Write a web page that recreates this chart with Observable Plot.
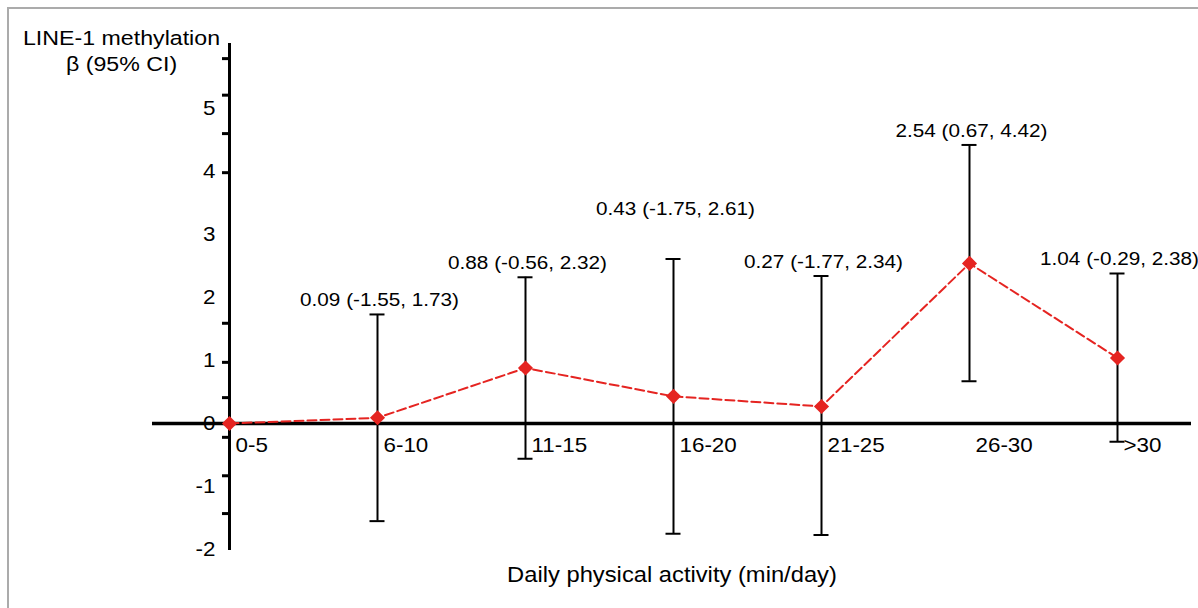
<!DOCTYPE html>
<html><head><meta charset="utf-8">
<script src="https://cdn.jsdelivr.net/npm/d3@7"></script>
<script src="https://cdn.jsdelivr.net/npm/@observablehq/plot@0.6"></script>
<style>
html,body{margin:0;padding:0;background:#fff;overflow:hidden;}
#wrap{position:relative;width:1198px;height:608px;}
#border{position:absolute;left:7px;top:7px;width:1200px;height:610px;border-left:2px solid #ababab;border-top:2px solid #ababab;pointer-events:none;}
</style></head><body>
<div id="wrap"><div id="border"></div></div>
<script>
const categories = ["0-5", "6-10", "11-15", "16-20", "21-25", "26-30", ">30"];
const estimates = [0, 0.09, 0.88, 0.43, 0.27, 2.54, 1.04];
const ciLow = [null, -1.55, -0.56, -1.75, -1.77, 0.67, -0.29];
const ciHigh = [null, 1.73, 2.32, 2.61, 2.34, 4.42, 2.38];
const labelLift = [0, 0, 0, 0.57, 0, 0, 0];
const yTickLabels = [-2, -1, 0, 1, 2, 3, 4, 5];
const yMinorTicks = [5.79, 5.21, 4.60, 3.98, 1.59, 0.97, 0.41, -0.22, -0.83, -1.43];
const yTitle = "LINE-1 methylation\nβ (95% CI)";
const xTitle = "Daily physical activity (min/day)";

const RED = "#e52421";
const FONT = "'Liberation Sans', Arial, Helvetica, sans-serif";
const STRETCH = 1.12;

const rows = categories.map((c, i) => ({
  i, cat: c, est: estimates[i], lo: ciLow[i], hi: ciHigh[i], lift: labelLift[i]
}));
const withCI = rows.filter(d => d.hi != null);
const fmt = v => v.toFixed(2);

const chart = Plot.plot({
  width: 1198,
  height: 608,
  marginLeft: 152,
  marginRight: 7,
  marginTop: 43,
  marginBottom: 58,
  style: {background: "transparent", fontFamily: FONT, overflow: "visible"},
  x: {type: "linear", domain: [-77 / 148, 962 / 148], axis: null},
  y: {domain: [-2.016, 6.03], axis: null},
  marks: [
    Plot.ruleY([0], {stroke: "black", strokeWidth: 3.5}),
    Plot.ruleX([0], {stroke: "black", strokeWidth: 3}),
    Plot.ruleY(yMinorTicks, {y: d => d, x1: 0, x2: 0, insetLeft: -7, stroke: "black", strokeWidth: 3}),
    Plot.text(yTickLabels, {x: 0, y: d => d, text: d => String(d), dx: -14, textAnchor: "end", fontSize: 20, fill: "black"}),
    Plot.text(rows, {x: "i", y: 0, text: "cat", dx: 6, dy: 22, textAnchor: "start", fontSize: 20, fill: "black"}),
    Plot.ruleX(withCI, {x: "i", y1: "lo", y2: "hi", stroke: "black", strokeWidth: 2}),
    Plot.ruleY(withCI, {y: "hi", x1: "i", x2: "i", insetLeft: -7.5, insetRight: -7.5, stroke: "black", strokeWidth: 2}),
    Plot.ruleY(withCI, {y: "lo", x1: "i", x2: "i", insetLeft: -7.5, insetRight: -7.5, stroke: "black", strokeWidth: 2}),
    Plot.line(rows, {x: "i", y: "est", stroke: RED, strokeWidth: 2, strokeDasharray: "9,4"}),
    Plot.dot(rows, {x: "i", y: "est", symbol: "diamond2", r: 6.8, fill: RED}),
    Plot.text(withCI, {x: "i", y: d => d.hi + d.lift, text: d => `${fmt(d.est)} (${fmt(d.lo)}, ${fmt(d.hi)})`, dy: -14, dx: 2, fontSize: 18.5, fill: "black"}),
    Plot.text([yTitle], {frameAnchor: "top-left", text: d => d, dx: -31, dy: -16.7, lineAnchor: "top", lineHeight: 1.26, textAnchor: "middle", fontSize: 20.7, fill: "black"}),
    Plot.text([xTitle], {frameAnchor: "bottom", text: d => d, dy: 31.2, fontSize: 21.2, fill: "black"})
  ]
});

chart.querySelectorAll("text").forEach(t => {
  const tr = t.getAttribute("transform");
  if (tr) {
    t.setAttribute("transform", tr + ` scale(${STRETCH},1)`);
  } else {
    const x = +(t.getAttribute("x") || 0), y = +(t.getAttribute("y") || 0);
    t.removeAttribute("x"); t.removeAttribute("y");
    t.setAttribute("transform", `translate(${x},${y}) scale(${STRETCH},1)`);
  }
});

document.getElementById("wrap").prepend(chart);
</script>
</body></html>
